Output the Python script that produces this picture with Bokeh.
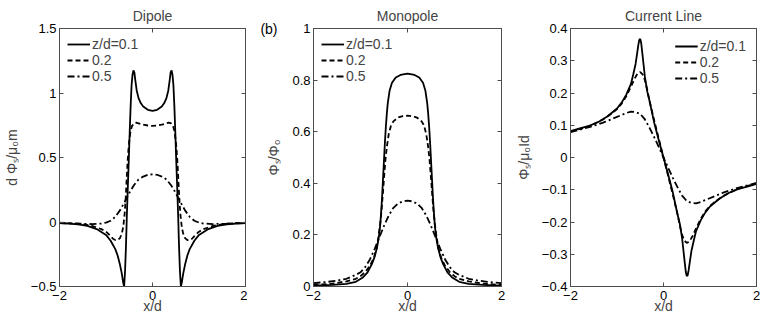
from bokeh.plotting import figure
from bokeh.layouts import row
from bokeh.models import FixedTicker, LinearAxis, Legend, LegendItem, Range1d
from bokeh.embed import file_html
from bokeh.resources import INLINE

# ---------------- data ----------------
x_ticks = [-2, 0, 2]
x_tick_labels = ["\u22122", "0", "2"]

# Dipole
dip_x1 = [-2, -1.8, -1.6, -1.4, -1.2, -1.0, -0.9, -0.8, -0.75, -0.7, -0.66, -0.63, -0.61, -0.59, -0.57, -0.55,
          -0.53, -0.51, -0.49, -0.47, -0.45, -0.43, -0.41, -0.39, -0.37, -0.34, -0.3, -0.25, -0.2, -0.1, 0,
          0.1, 0.2, 0.25, 0.3, 0.34, 0.37, 0.39, 0.41, 0.43, 0.45, 0.47, 0.49, 0.51, 0.53, 0.55, 0.57, 0.59,
          0.61, 0.63, 0.66, 0.7, 0.75, 0.8, 0.9, 1.0, 1.2, 1.4, 1.6, 1.8, 2]
dip_y1 = [-0.008, -0.012, -0.018, -0.03, -0.055, -0.1, -0.145, -0.21, -0.26, -0.33, -0.4, -0.47, -0.5, -0.38,
          -0.18, 0.07, 0.28, 0.48, 0.7, 0.9, 1.06, 1.14, 1.175, 1.16, 1.1, 1.02, 0.96, 0.92, 0.895, 0.87, 0.862,
          0.87, 0.895, 0.92, 0.96, 1.02, 1.1, 1.16, 1.175, 1.14, 1.06, 0.9, 0.7, 0.48, 0.28, 0.07, -0.18, -0.38,
          -0.5, -0.47, -0.4, -0.33, -0.26, -0.21, -0.145, -0.1, -0.055, -0.03, -0.018, -0.012, -0.008]
dip_x2 = [-2, -1.6, -1.3, -1.1, -1.0, -0.9, -0.85, -0.8, -0.75, -0.7, -0.66, -0.63, -0.6, -0.58, -0.56, -0.54,
          -0.52, -0.5, -0.47, -0.44, -0.4, -0.35, -0.3, -0.2, -0.1, 0, 0.1, 0.2, 0.3, 0.35, 0.4, 0.44, 0.47, 0.5,
          0.52, 0.54, 0.56, 0.58, 0.6, 0.63, 0.66, 0.7, 0.75, 0.8, 0.85, 0.9, 1.0, 1.1, 1.3, 1.6, 2]
dip_y2 = [-0.005, -0.012, -0.03, -0.055, -0.075, -0.11, -0.13, -0.14, -0.14, -0.125, -0.09, -0.04, 0.06, 0.16,
          0.3, 0.44, 0.55, 0.63, 0.71, 0.745, 0.765, 0.77, 0.765, 0.755, 0.748, 0.745, 0.748, 0.755, 0.765, 0.77,
          0.765, 0.745, 0.71, 0.63, 0.55, 0.44, 0.3, 0.16, 0.06, -0.04, -0.09, -0.125, -0.14, -0.14, -0.13,
          -0.11, -0.075, -0.055, -0.03, -0.012, -0.005]
dip_x5 = [-2, -1.6, -1.3, -1.1, -1.0, -0.9, -0.8, -0.7, -0.6, -0.5, -0.4, -0.3, -0.2, -0.1, 0,
          0.1, 0.2, 0.3, 0.4, 0.5, 0.6, 0.7, 0.8, 0.9, 1.0, 1.1, 1.3, 1.6, 2]
dip_y5 = [-0.008, -0.013, -0.016, -0.012, -0.005, 0.01, 0.04, 0.09, 0.155, 0.225, 0.285, 0.33, 0.352, 0.366,
          0.37, 0.366, 0.352, 0.33, 0.285, 0.225, 0.155, 0.09, 0.04, 0.01, -0.005, -0.012, -0.016, -0.013,
          -0.008]
dip_yticks = [-0.5, 0, 0.5, 1, 1.5]
dip_ytick_labels = ["\u22120.5", "0", "0.5", "1", "1.5"]

# Monopole
mono_x1 = [-2, -1.6, -1.3, -1.1, -0.95, -0.85, -0.75, -0.7, -0.65, -0.62, -0.6, -0.58, -0.56, -0.54, -0.52,
           -0.5, -0.48, -0.46, -0.44, -0.42, -0.38, -0.33, -0.25, -0.15, 0, 0.15, 0.25, 0.33, 0.38, 0.42, 0.44,
           0.46, 0.48, 0.5, 0.52, 0.54, 0.56, 0.58, 0.6, 0.62, 0.65, 0.7, 0.75, 0.85, 0.95, 1.1, 1.3, 1.6, 2]
mono_y1 = [0.003, 0.006, 0.01, 0.018, 0.035, 0.055, 0.09, 0.115, 0.15, 0.18, 0.205, 0.24, 0.29, 0.35, 0.42,
           0.49, 0.56, 0.62, 0.67, 0.71, 0.76, 0.79, 0.81, 0.82, 0.825, 0.82, 0.81, 0.79, 0.76, 0.71, 0.67,
           0.62, 0.56, 0.49, 0.42, 0.35, 0.29, 0.24, 0.205, 0.18, 0.15, 0.115, 0.09, 0.055, 0.035, 0.018, 0.01,
           0.006, 0.003]
mono_x2 = [-2, -1.6, -1.3, -1.1, -1.0, -0.9, -0.8, -0.72, -0.66, -0.62, -0.58, -0.55, -0.52, -0.5, -0.47,
           -0.44, -0.4, -0.35, -0.3, -0.2, -0.1, 0, 0.1, 0.2, 0.3, 0.35, 0.4, 0.44, 0.47, 0.5, 0.52, 0.55, 0.58,
           0.62, 0.66, 0.72, 0.8, 0.9, 1.0, 1.1, 1.3, 1.6, 2]
mono_y2 = [0.006, 0.011, 0.02, 0.03, 0.04, 0.056, 0.08, 0.11, 0.145, 0.19, 0.245, 0.3, 0.37, 0.42, 0.49, 0.54,
           0.59, 0.625, 0.64, 0.655, 0.66, 0.662, 0.66, 0.655, 0.64, 0.625, 0.59, 0.54, 0.49, 0.42, 0.37, 0.3,
           0.245, 0.19, 0.145, 0.11, 0.08, 0.056, 0.04, 0.03, 0.02, 0.011, 0.006]
mono_x5 = [-2, -1.7, -1.5, -1.3, -1.1, -1.0, -0.9, -0.8, -0.7, -0.6, -0.5, -0.4, -0.3, -0.2, -0.1, 0,
           0.1, 0.2, 0.3, 0.4, 0.5, 0.6, 0.7, 0.8, 0.9, 1.0, 1.1, 1.3, 1.5, 1.7, 2]
mono_y5 = [0.013, 0.018, 0.023, 0.03, 0.045, 0.055, 0.075, 0.105, 0.145, 0.19, 0.235, 0.275, 0.305, 0.322,
           0.33, 0.333, 0.33, 0.322, 0.305, 0.275, 0.235, 0.19, 0.145, 0.105, 0.075, 0.055, 0.045, 0.03, 0.023,
           0.018, 0.013]
mono_yticks = [0, 0.2, 0.4, 0.6, 0.8, 1]
mono_ytick_labels = ["0", "0.2", "0.4", "0.6", "0.8", "1"]
panel_tag_y = [1]
panel_tag_label = ["(b)"]

# Current line
cur_x1 = [-2, -1.8, -1.6, -1.4, -1.2, -1.0, -0.9, -0.8, -0.7, -0.65, -0.6, -0.57, -0.54, -0.52, -0.5, -0.48,
          -0.46, -0.43, -0.4, -0.35, -0.3, -0.2, -0.1, 0, 0.1, 0.2, 0.3, 0.35, 0.4, 0.43, 0.46, 0.48, 0.5, 0.52,
          0.54, 0.57, 0.6, 0.65, 0.7, 0.8, 0.9, 1.0, 1.2, 1.4, 1.6, 1.8, 2]
cur_y1 = [0.082, 0.09, 0.098, 0.11, 0.128, 0.152, 0.17, 0.195, 0.228, 0.258, 0.29, 0.32, 0.35, 0.365, 0.368,
          0.355, 0.33, 0.29, 0.25, 0.205, 0.175, 0.108, 0.053, 0, -0.053, -0.108, -0.175, -0.205, -0.25, -0.29,
          -0.33, -0.355, -0.368, -0.365, -0.35, -0.32, -0.29, -0.258, -0.228, -0.195, -0.17, -0.152, -0.128,
          -0.11, -0.098, -0.09, -0.082]
cur_x2 = [-2, -1.6, -1.3, -1.1, -1.0, -0.9, -0.8, -0.7, -0.62, -0.56, -0.5, -0.45, -0.4, -0.35, -0.3, -0.2,
          -0.1, 0, 0.1, 0.2, 0.3, 0.35, 0.4, 0.45, 0.5, 0.56, 0.62, 0.7, 0.8, 0.9, 1.0, 1.1, 1.3, 1.6, 2]
cur_y2 = [0.08, 0.097, 0.118, 0.138, 0.15, 0.167, 0.19, 0.22, 0.245, 0.26, 0.265, 0.258, 0.24, 0.21, 0.175,
          0.115, 0.057, 0, -0.057, -0.115, -0.175, -0.21, -0.24, -0.258, -0.265, -0.26, -0.245, -0.22, -0.19,
          -0.167, -0.15, -0.138, -0.118, -0.097, -0.08]
cur_x5 = [-2, -1.6, -1.3, -1.1, -0.9, -0.8, -0.7, -0.6, -0.5, -0.4, -0.3, -0.2, -0.1, 0,
          0.1, 0.2, 0.3, 0.4, 0.5, 0.6, 0.7, 0.8, 0.9, 1.1, 1.3, 1.6, 2]
cur_y5 = [0.079, 0.094, 0.108, 0.12, 0.132, 0.138, 0.142, 0.141, 0.135, 0.118, 0.092, 0.063, 0.032, 0,
          -0.032, -0.063, -0.092, -0.118, -0.135, -0.141, -0.142, -0.138, -0.132, -0.12, -0.108, -0.094,
          -0.079]
cur_yticks = [-0.4, -0.3, -0.2, -0.1, 0, 0.1, 0.2, 0.3, 0.4]
cur_ytick_labels = ["\u22120.4", "\u22120.3", "\u22120.2", "\u22120.1", "0", "0.1", "0.2", "0.3", "0.4"]

legend_labels = ["z/d=0.1", "0.2", "0.5"]

# ---------------- styling ----------------
FONT = "Liberation Sans"
AX = "#4d4d4d"
DASHES = ["solid", "5 3", "7 3 2 3"]


def style_axis(ax, ticks, labels, show_labels=True, label_standoff=2):
    ax.ticker = FixedTicker(ticks=ticks)
    ax.major_tick_in = 4
    ax.major_tick_out = 0
    ax.minor_tick_line_color = None
    ax.axis_line_color = AX
    ax.major_tick_line_color = AX
    ax.major_label_text_font = FONT
    ax.axis_label_text_font = FONT
    ax.axis_label_text_font_style = "normal"
    ax.axis_label_text_font_size = "14px"
    if show_labels:
        ax.major_label_overrides = {t: l for t, l in zip(ticks, labels)}
        ax.major_label_text_color = "black"
        ax.major_label_text_font_size = "13px"
        ax.axis_label_standoff = label_standoff
    else:
        ax.major_label_text_color = None
        ax.major_label_text_font_size = "0px"
        ax.major_label_standoff = 0


def make_panel(title, ylabel, yrange, yticks, ylabels, series, width, border_left, border_right,
               legend_loc, ylabel_standoff, legend_margin):
    p = figure(width=width, height=320, x_range=Range1d(-2, 2), y_range=Range1d(*yrange),
               output_backend="svg", toolbar_location=None, title=title,
               min_border_left=border_left, min_border_right=border_right,
               min_border_top=27, min_border_bottom=34)
    p.title.align = "center"
    p.title.text_font = FONT
    p.title.text_font_style = "normal"
    p.title.text_font_size = "14px"
    p.title.standoff = 10
    p.xgrid.visible = False
    p.ygrid.visible = False
    p.outline_line_color = AX
    p.background_fill_color = "white"
    p.border_fill_color = "white"

    style_axis(p.xaxis[0], x_ticks, x_tick_labels, label_standoff=-5)
    p.xaxis[0].major_label_standoff = 4
    p.xaxis[0].axis_label = "x/d"
    style_axis(p.yaxis[0], yticks, ylabels, label_standoff=ylabel_standoff)
    p.yaxis[0].major_label_standoff = 3
    p.yaxis[0].axis_label = ylabel

    top = LinearAxis()
    style_axis(top, x_ticks, x_tick_labels, show_labels=False)
    p.add_layout(top, "above")
    right = LinearAxis()
    style_axis(right, yticks, ylabels, show_labels=False)
    p.add_layout(right, "right")

    items = []
    for (xs, ys), dash, lab in zip(series, DASHES, legend_labels):
        r = p.line(xs, ys, line_color="black", line_width=1.8, line_dash=dash)
        items.append(LegendItem(label=lab, renderers=[r]))
    leg = Legend(items=items, location=legend_loc)
    leg.border_line_alpha = 0
    leg.background_fill_alpha = 0
    leg.margin = legend_margin
    leg.padding = 0
    leg.spacing = 0
    leg.label_height = 16
    leg.glyph_height = 16
    leg.glyph_width = 23
    leg.label_standoff = 2
    leg.label_text_font = FONT
    leg.label_text_font_size = "14px"
    p.add_layout(leg)
    return p


p1 = make_panel("Dipole", "d \u03a6\u209b/\u03bc\u2080m", (-0.5, 1.5), dip_yticks, dip_ytick_labels,
                [(dip_x1, dip_y1), (dip_x2, dip_y2), (dip_x5, dip_y5)], 247, 57, 2, "top_left", 8, 8)
p2 = make_panel("Monopole", "\u03a6\u209b/\u03a6\u2080", (0, 1), mono_yticks, mono_ytick_labels,
                [(mono_x1, mono_y1), (mono_x2, mono_y2), (mono_x5, mono_y5)], 265, 66, 11, "top_left", 7, 8)
p3 = make_panel("Current Line", "\u03a6\u209b/\u03bc\u2080Id", (-0.4, 0.4), cur_yticks, cur_ytick_labels,
                [(cur_x1, cur_y1), (cur_x2, cur_y2), (cur_x5, cur_y5)], 250, 57, 6, "top_right", 7, 10)

# panel tag "(b)" drawn as an extra, line-less left axis with one labelled tick at the top
tag_axis = LinearAxis(ticker=FixedTicker(ticks=panel_tag_y),
                      major_label_overrides={t: l for t, l in zip(panel_tag_y, panel_tag_label)})
tag_axis.axis_line_color = None
tag_axis.major_tick_line_color = None
tag_axis.minor_tick_line_color = None
tag_axis.major_tick_in = 0
tag_axis.major_tick_out = 0
tag_axis.major_label_standoff = -14
tag_axis.major_label_text_font = FONT
tag_axis.major_label_text_font_size = "14px"
tag_axis.major_label_text_color = "black"
p2.add_layout(tag_axis, "left")

layout = row(p1, p2, p3)
open("out.html", "w").write(file_html(layout, INLINE))
